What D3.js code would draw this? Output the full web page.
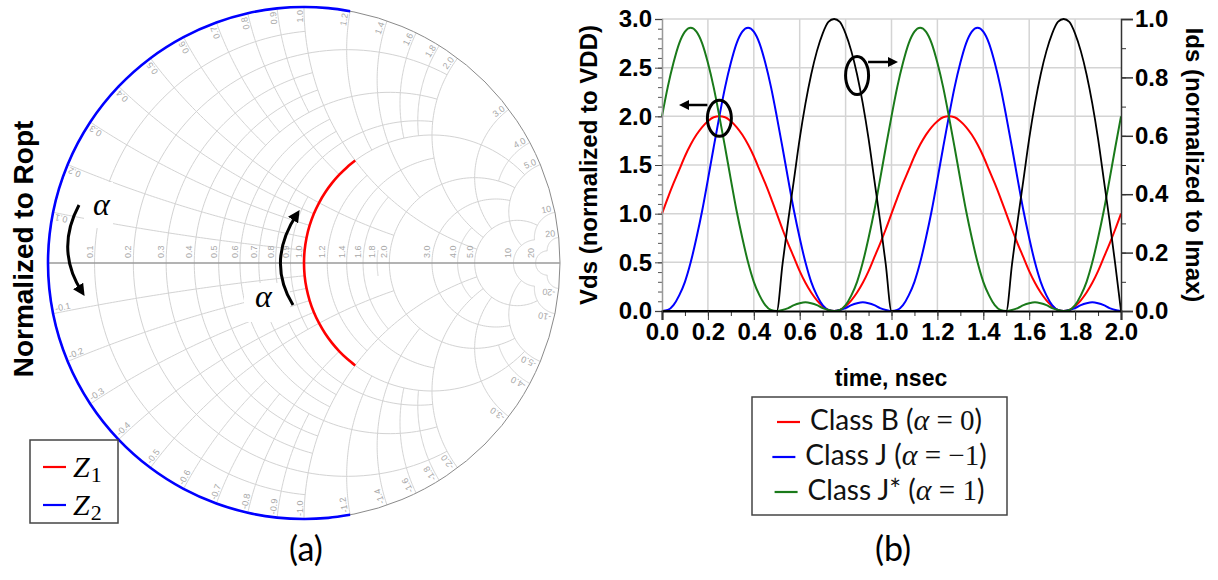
<!DOCTYPE html>
<html><head><meta charset="utf-8">
<script src="https://cdn.jsdelivr.net/npm/d3@7"></script>
<style>body{margin:0;background:#fff}svg{display:block}</style>
</head><body>
<svg id="fig" width="1218" height="580"></svg>
<script>
// ---------- (a) Smith chart, normalized to Ropt ----------
const z1R = 1.0;   // Z1: resistance fixed at Ropt, reactance swept by alpha
const z1X = [-1,-0.9,-0.8,-0.7,-0.6,-0.5,-0.4,-0.3,-0.2,-0.1,0,0.1,0.2,0.3,0.4,0.5,0.6,0.7,0.8,0.9,1];
const z2R = 0.0;   // Z2: purely reactive termination
const z2X = [-1.2,-1.1,-1,-0.9,-0.8,-0.7,-0.6,-0.5,-0.4,-0.3,-0.2,-0.1,0,0.1,0.2,0.3,0.4,0.5,0.6,0.7,0.8,0.9,1,1.1,1.2];
const smithGrid = [0.1,0.2,0.3,0.4,0.5,0.6,0.7,0.8,0.9,1.0,1.2,1.4,1.6,1.8,2.0,3.0,4.0,5.0,10,20];
const smithGridLabels = ["0.1","0.2","0.3","0.4","0.5","0.6","0.7","0.8","0.9","1.0","1.2","1.4","1.6","1.8","2.0","3.0","4.0","5.0","10","20"];
const smithCoarse = [0.2,0.5,1,2,5,10,20];

// ---------- (b) drain waveforms ----------
const timeNs = [0,0.025,0.05,0.075,0.1,0.125,0.15,0.175,0.2,0.225,0.25,0.275,0.3,0.325,0.35,0.375,0.4,0.425,0.45,0.475,0.5,0.525,0.55,0.575,0.6,0.625,0.65,0.675,0.7,0.725,0.75,0.775,0.8,0.825,0.85,0.875,0.9,0.925,0.95,0.975,1.0,1.025,1.05,1.075,1.1,1.125,1.15,1.175,1.2,1.225,1.25,1.275,1.3,1.325,1.35,1.375,1.4,1.425,1.45,1.475,1.5,1.525,1.55,1.575,1.6,1.625,1.65,1.675,1.7,1.725,1.75,1.775,1.8,1.825,1.85,1.875,1.9,1.925,1.95,1.975,2.0];
const vdsClassB = [1.00,1.16,1.31,1.45,1.59,1.71,1.81,1.89,1.95,1.99,2.00,1.99,1.95,1.89,1.81,1.71,1.59,1.45,1.31,1.16,1.00,0.84,0.69,0.55,0.41,0.29,0.19,0.11,0.05,0.01,0.00,0.01,0.05,0.11,0.19,0.29,0.41,0.55,0.69,0.84,
  1.00,1.16,1.31,1.45,1.59,1.71,1.81,1.89,1.95,1.99,2.00,1.99,1.95,1.89,1.81,1.71,1.59,1.45,1.31,1.16,1.00,0.84,0.69,0.55,0.41,0.29,0.19,0.11,0.05,0.01,0.00,0.01,0.05,0.11,0.19,0.29,0.41,0.55,0.69,0.84,1.00];
const vdsClassJ = [0.00,0.01,0.06,0.16,0.30,0.50,0.75,1.03,1.35,1.68,2.00,2.30,2.55,2.75,2.87,2.91,2.87,2.75,2.55,2.30,2.00,1.68,1.35,1.03,0.75,0.50,0.30,0.16,0.06,0.01,0.00,0.01,0.03,0.06,0.08,0.09,0.08,0.06,0.03,0.01,
  0.00,0.01,0.06,0.16,0.30,0.50,0.75,1.03,1.35,1.68,2.00,2.30,2.55,2.75,2.87,2.91,2.87,2.75,2.55,2.30,2.00,1.68,1.35,1.03,0.75,0.50,0.30,0.16,0.06,0.01,0.00,0.01,0.03,0.06,0.08,0.09,0.08,0.06,0.03,0.01,0.00];
const vdsClassJStar = [2.00,2.30,2.55,2.75,2.87,2.91,2.87,2.75,2.55,2.30,2.00,1.68,1.35,1.03,0.75,0.50,0.30,0.16,0.06,0.01,0.00,0.01,0.03,0.06,0.08,0.09,0.08,0.06,0.03,0.01,0.00,0.01,0.06,0.16,0.30,0.50,0.75,1.03,1.35,1.68,
  2.00,2.30,2.55,2.75,2.87,2.91,2.87,2.75,2.55,2.30,2.00,1.68,1.35,1.03,0.75,0.50,0.30,0.16,0.06,0.01,0.00,0.01,0.03,0.06,0.08,0.09,0.08,0.06,0.03,0.01,0.00,0.01,0.06,0.16,0.30,0.50,0.75,1.03,1.35,1.68,2.00];
const idsNorm = [0,0,0,0,0,0,0,0,0,0,0,0,0,0,0,0,0,0,0,0,0.00,0.16,0.31,0.45,0.59,0.71,0.81,0.89,0.95,0.99,1.00,0.99,0.95,0.89,0.81,0.71,0.59,0.45,0.31,0.16,
  0,0,0,0,0,0,0,0,0,0,0,0,0,0,0,0,0,0,0,0,0.00,0.16,0.31,0.45,0.59,0.71,0.81,0.89,0.95,0.99,1.00,0.99,0.95,0.89,0.81,0.71,0.59,0.45,0.31,0.16,0.00];
const timeTicks = [0,0.2,0.4,0.6,0.8,1.0,1.2,1.4,1.6,1.8,2.0];
const vdsTicks = [0,0.5,1.0,1.5,2.0,2.5,3.0];
const idsTicks = [0,0.2,0.4,0.6,0.8,1.0];
const legendNames = ["Class B","Class J","Class J*"];
const legendAlpha = ["0","\u22121","1"];
const seriesColors = ["#ff0000","#0000ff","#1a7a1a"];

const svg = d3.select("#fig");
const SANS = "'Liberation Sans', Arial, sans-serif";
const SERIF = "'Liberation Serif', 'DejaVu Serif', serif";
const HUMAN = "Lato, 'Open Sans', sans-serif";

// arrowhead marker
const defs = svg.append("defs");
defs.append("marker").attr("id","ah").attr("viewBox","0 0 10 10").attr("refX",6).attr("refY",5)
  .attr("markerWidth",4).attr("markerHeight",4).attr("orient","auto")
  .append("path").attr("d","M0,0 L10,5 L0,10 z").attr("fill","#000");

// ================= (a) =================
const cx = 304, cy = 263, R0 = 256;
const gx = d3.scaleLinear().domain([-1,1]).range([cx-R0, cx+R0]);
const gy = d3.scaleLinear().domain([-1,1]).range([cy+R0, cy-R0]);
function gam(r,x){ const a=r-1, c=r+1, den=c*c+x*x; return [(a*c+x*x)/den, (x*c-a*x)/den]; }
function pt(r,x){ const g=gam(r,x); return [gx(g[0]), gy(g[1])]; }
const sm = svg.append("g");

const rankOf = v => (v===1?0:(v===0.5||v===2)?1:(v===0.2||v===5)?2:[0.4,0.6,0.8,1.4,1.8,3,4,10,20].includes(v)?3:4);
const TH = 12;
function lineEnds(fam){
  const other = [0, ...smithGrid];
  const order = smithGrid.slice().sort((a,b)=>rankOf(a)-rankOf(b)||a-b);
  const acc = [{v:0,end:other.length-1}];
  const ends = new Map();
  for(const v of order){
    let k=-1;
    for(let j=0;j<other.length;j++){
      const p = fam==="r"?pt(v,other[j]):pt(other[j],v);
      const ok = acc.every(a=>{ if(a.end<j) return true;
        const q = fam==="r"?pt(a.v,other[j]):pt(other[j],a.v);
        return Math.hypot(p[0]-q[0],p[1]-q[1])>=TH; });
      if(!ok) break; k=j;
    }
    const lim = k>=0?other[k]:-1;
    const s = smithCoarse.filter(c=>c<=lim+1e-9);
    const e = s.length?s[s.length-1]:0;
    ends.set(v,e);
    if(e>0) acc.push({v,end:other.indexOf(e)});
  }
  return ends;
}
const rEnds = lineEnds("r"), xEnds = lineEnds("x");
const poly = d3.line();
const gridG = sm.append("g").attr("fill","none").attr("stroke","#d3d3d3").attr("stroke-width",1);
// constant-resistance arcs
smithGrid.forEach(r=>{
  const xe = rEnds.get(r); if(!(xe>0)) return;
  const c0 = r/(1+r);
  const ge = gam(r,xe); const psi = Math.atan2(ge[1], ge[0]-c0);
  const rho = 1/(1+r);
  const pts = d3.range(0,121).map(i=>{ const a = psi + (2*Math.PI-2*psi)*i/120;
    return [gx(c0+rho*Math.cos(a)), gy(rho*Math.sin(a))]; });
  gridG.append("path").attr("d",poly(pts));
});
// constant-reactance arcs (both signs)
smithGrid.forEach(x=>{
  const re = xEnds.get(x); if(!(re>0)) return;
  const yc = 1/x;
  const g0 = gam(0,x), g1 = gam(re,x);
  let w0 = Math.atan2(g0[1]-yc, g0[0]-1), w1 = Math.atan2(g1[1]-yc, g1[0]-1);
  while(w1<w0) w1 += 2*Math.PI;
  const pts = d3.range(0,81).map(i=>{ const a=w0+(w1-w0)*i/80; return [1+Math.cos(a)/x, yc+Math.sin(a)/x]; });
  [1,-1].forEach(sg=>gridG.append("path").attr("d",poly(pts.map(p=>[gx(p[0]),gy(sg*p[1])]))));
});
// outer circle and real axis
sm.append("circle").attr("cx",gx(0)).attr("cy",gy(0)).attr("r",gx(1)-gx(0)).attr("fill","none").attr("stroke","#8a8a8a").attr("stroke-width",1);
sm.append("line").attr("x1",gx(-1)).attr("x2",gx(1)).attr("y1",gy(0)).attr("y2",gy(0)).attr("stroke","#9a9a9a").attr("stroke-width",1.5);
// grid labels
const lab = sm.append("g").attr("font-family",SANS).attr("font-size",9).attr("fill","#a8a8a8");
smithGrid.forEach((v,i)=>{
  const p = pt(v,0);
  lab.append("text").attr("transform",`translate(${p[0]-2},${gy(0)-5}) rotate(-90)`).attr("text-anchor","start").text(smithGridLabels[i]);
  [1,-1].forEach(sg=>{
    const g = gam(0,sg*v); const th = Math.atan2(g[1],g[0]);
    const rr = 1-3/R0;
    const px = gx(rr*Math.cos(th)), py = gy(rr*Math.sin(th));
    if(sg>0){
      lab.append("text").attr("transform",`translate(${px},${py}) rotate(${-th*180/Math.PI})`).attr("text-anchor","end").attr("dy",-1.5).text(smithGridLabels[i]);
    } else {
      const rot = Math.atan2(Math.sin(th), -Math.cos(th))*180/Math.PI;
      lab.append("text").attr("transform",`translate(${px},${py}) rotate(${rot})`).attr("text-anchor","start").attr("dy",-1.5).text("-"+smithGridLabels[i]);
    }
  });
});
// clear boxes behind the alpha labels
sm.append("rect").attr("x",84).attr("y",182).attr("width",29).attr("height",46).attr("fill","#fff");
sm.append("rect").attr("x",244).attr("y",283).attr("width",46).attr("height",39).attr("fill","#fff");

// impedance loci
const locus = d3.line().curve(d3.curveCatmullRom);
sm.append("path").attr("d",locus(z2X.map(x=>pt(z2R,x)))).attr("fill","none").attr("stroke","#0000ff").attr("stroke-width",2.6);
sm.append("path").attr("d",locus(z1X.map(x=>pt(z1R,x)))).attr("fill","none").attr("stroke","#ff0000").attr("stroke-width",2.6);

// alpha sweep arrows
sm.append("path").attr("d","M79,205 Q55,250 82,292").attr("fill","none").attr("stroke","#000").attr("stroke-width",3).attr("marker-end","url(#ah)");
sm.append("path").attr("d","M293,305 Q266,261 297,214").attr("fill","none").attr("stroke","#000").attr("stroke-width",3).attr("marker-end","url(#ah)");
sm.append("text").attr("x",93).attr("y",215).attr("font-family",SERIF).attr("font-style","italic").attr("font-size",32).text("\u03b1");
sm.append("text").attr("x",255).attr("y",307).attr("font-family",SERIF).attr("font-style","italic").attr("font-size",32).text("\u03b1");

// left title
svg.append("text").attr("transform","translate(33,249) rotate(-90)").attr("text-anchor","middle")
  .attr("font-family",SANS).attr("font-weight","bold").attr("font-size",28).text("Normalized to Ropt");

// legend (a)
const lga = svg.append("g");
lga.append("rect").attr("x",30).attr("y",440).attr("width",88).attr("height",83).attr("fill","#fff").attr("stroke","#444").attr("stroke-width",1.5);
[["#ff0000","1",467],["#0000ff","2",505]].forEach(([col,sub,y])=>{
  lga.append("line").attr("x1",43).attr("x2",66).attr("y1",y).attr("y2",y).attr("stroke",col).attr("stroke-width",2.2);
  const t = lga.append("text").attr("x",73).attr("y",y+10).attr("font-family",SERIF).attr("font-size",30);
  t.append("tspan").attr("font-style","italic").text("Z");
  t.append("tspan").attr("font-size",22).attr("dy",5).attr("dx",1).text(sub);
});
svg.append("text").attr("x",306).attr("y",561).attr("text-anchor","middle").attr("font-family",HUMAN).attr("font-size",34).text("(a)");

// ================= (b) =================
const xs = d3.scaleLinear().domain([0,2]).range([662,1121]);
const yl = d3.scaleLinear().domain([0,3]).range([311,19]);
const yr = d3.scaleLinear().domain([0,1]).range([311,19]);
const pb = svg.append("g");
// grid
pb.append("g").selectAll("line").data(timeTicks.slice(1,-1)).join("line")
  .attr("x1",d=>xs(d)).attr("x2",d=>xs(d)).attr("y1",yl(0)).attr("y2",yl(3)).attr("stroke","#d4d4d4").attr("stroke-width",1.5);
pb.append("g").selectAll("line").data(vdsTicks.slice(1)).join("line")
  .attr("x1",xs(0)).attr("x2",xs(2)).attr("y1",d=>yl(d)).attr("y2",d=>yl(d)).attr("stroke","#d4d4d4").attr("stroke-width",1.5);

// waveforms
const wave = d3.line().x((d,i)=>xs(timeNs[i])).curve(d3.curveMonotoneX);
[[vdsClassB,0],[vdsClassJ,1],[vdsClassJStar,2]].forEach(([arr,ci])=>{
  pb.append("path").attr("d",wave.y(d=>yl(d))(arr)).attr("fill","none").attr("stroke",seriesColors[ci]).attr("stroke-width",2);
});
pb.append("path").attr("d",wave.y(d=>yr(d))(idsNorm)).attr("fill","none").attr("stroke","#000").attr("stroke-width",1.8);

// axes
function styleAxis(g){ g.selectAll("text").attr("font-family",SANS).attr("font-weight","bold").attr("font-size",24).attr("fill","#000"); }
const minorL = d3.range(0,31).map(i=>i/10);
pb.append("g").attr("transform",`translate(${xs(0)},0)`).call(d3.axisLeft(yl).tickValues(minorL).tickSize(4).tickFormat(""))
  .call(g=>{g.select(".domain").remove(); g.selectAll("line").attr("stroke","#555");});
pb.append("g").attr("transform",`translate(${xs(0)},0)`).call(d3.axisLeft(yl).tickValues(vdsTicks).tickSize(7).tickPadding(3).tickFormat(d3.format(".1f")))
  .call(g=>{g.select(".domain").attr("stroke","#999").attr("stroke-width",1.5); g.selectAll("line").attr("stroke","#444");}).call(styleAxis);
const minorB = d3.range(0,21).map(i=>i/10);
pb.append("g").attr("transform",`translate(0,${yl(0)})`).call(d3.axisBottom(xs).tickValues(minorB).tickSize(5).tickFormat(""))
  .call(g=>{g.select(".domain").remove(); g.selectAll("line").attr("stroke","#333");});
pb.append("g").attr("transform",`translate(0,${yl(0)})`).call(d3.axisBottom(xs).tickValues(timeTicks).tickSize(9).tickPadding(3).tickFormat(d3.format(".1f")))
  .call(g=>{g.select(".domain").attr("stroke","#000").attr("stroke-width",2); g.selectAll("line").attr("stroke","#333");}).call(styleAxis);
const minorR = d3.range(0,11).map(i=>i/10);
pb.append("g").attr("transform",`translate(${xs(2)},0)`).call(d3.axisRight(yr).tickValues(minorR).tickSize(5).tickFormat(""))
  .call(g=>{g.select(".domain").remove(); g.selectAll("line").attr("stroke","#333");});
pb.append("g").attr("transform",`translate(${xs(2)},0)`).call(d3.axisRight(yr).tickValues(idsTicks).tickSize(12).tickPadding(2).tickFormat(d3.format(".1f")))
  .call(g=>{g.select(".domain").attr("stroke","#333").attr("stroke-width",1.5); g.selectAll("line").attr("stroke","#333").attr("stroke-width",1.5);}).call(styleAxis);

// axis titles
svg.append("text").attr("transform","translate(597,165) rotate(-90)").attr("text-anchor","middle")
  .attr("font-family",SANS).attr("font-weight","bold").attr("font-size",24).text("Vds (normalized to VDD)");
svg.append("text").attr("transform","translate(1186,165) rotate(90)").attr("text-anchor","middle")
  .attr("font-family",SANS).attr("font-weight","bold").attr("font-size",24).text("Ids (normalized to Imax)");
svg.append("text").attr("x",891).attr("y",386).attr("text-anchor","middle")
  .attr("font-family",SANS).attr("font-weight","bold").attr("font-size",23).text("time, nsec");

// circled curves with arrows pointing to their axes
const ann = svg.append("g").attr("fill","none").attr("stroke","#000");
ann.append("ellipse").attr("cx",xs(0.25)).attr("cy",yl(2.0)+2).attr("rx",12).attr("ry",18).attr("stroke-width",3);
ann.append("line").attr("x1",xs(0.25)-12).attr("x2",683).attr("y1",105).attr("y2",105).attr("stroke-width",2.5).attr("marker-end","url(#ah)");
ann.append("ellipse").attr("cx",xs(0.85)).attr("cy",yr(0.81)+1).attr("rx",11.5).attr("ry",19).attr("stroke-width",3);
ann.append("line").attr("x1",xs(0.85)+11).attr("x2",894).attr("y1",62).attr("y2",62).attr("stroke-width",2.5).attr("marker-end","url(#ah)");

// legend (b)
const lgb = svg.append("g");
lgb.append("rect").attr("x",752).attr("y",397).attr("width",255).attr("height",118).attr("fill","#fff").attr("stroke","#444").attr("stroke-width",1.5);
const rowBase = [430,465,500];
legendNames.forEach((nm,i)=>{
  const row = lgb.append("g");
  row.append("line").attr("x1",0).attr("x2",23).attr("y1",-8).attr("y2",-8).attr("stroke",seriesColors[i]).attr("stroke-width",2.2);
  const t = row.append("text").attr("x",33).attr("y",0).attr("font-family",HUMAN).attr("font-size",28).attr("fill","#111");
  t.append("tspan").text(nm+" (");
  t.append("tspan").attr("font-family",SERIF).attr("font-style","italic").attr("font-size",30).text("\u03b1");
  t.append("tspan").attr("font-family",SERIF).attr("font-size",29).text(" = "+legendAlpha[i]);
  t.append("tspan").text(")");
  const w = 33 + t.node().getComputedTextLength();
  row.attr("transform",`translate(${879.5-w/2},${rowBase[i]})`);
});
svg.append("text").attr("x",893).attr("y",561).attr("text-anchor","middle").attr("font-family",HUMAN).attr("font-size",34).text("(b)");
</script>
</body></html>
